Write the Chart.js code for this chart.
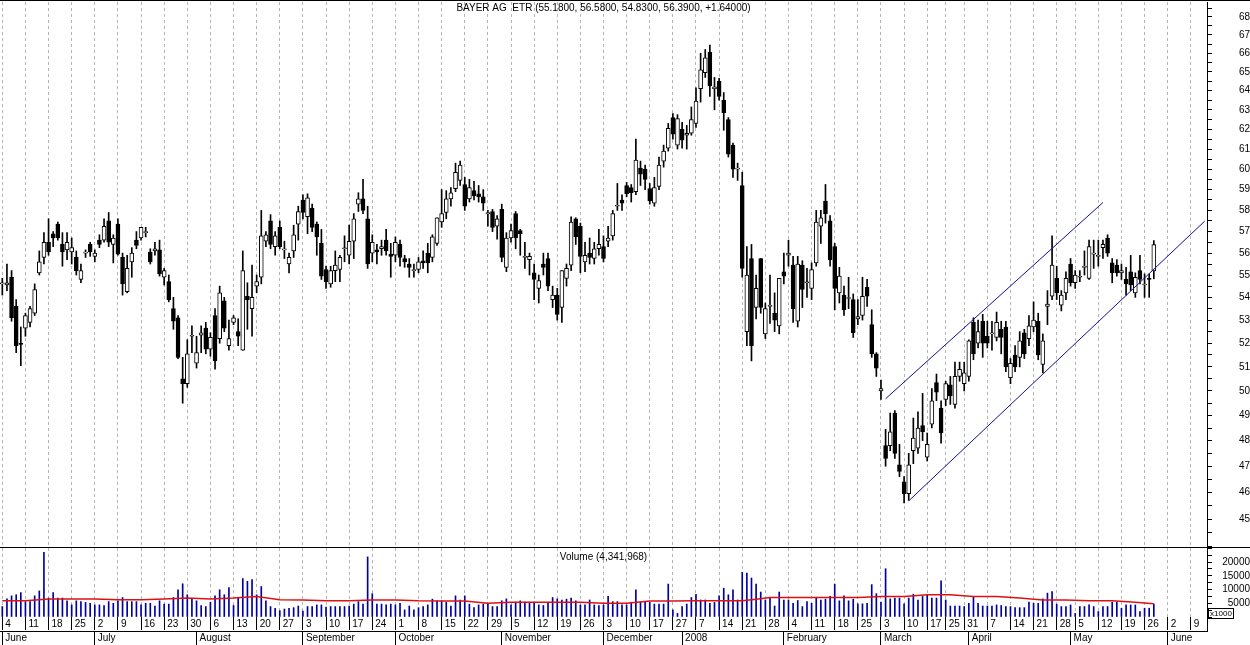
<!DOCTYPE html>
<html>
<head>
<meta charset="utf-8">
<title>BAYER AG ETR</title>
<script src="https://cdn.jsdelivr.net/npm/chart.js@4.4.1/dist/chart.umd.min.js"></script>
<style>
  html, body { margin: 0; padding: 0; background: #fff; }
  #wrap { width: 1250px; height: 645px; position: relative; }
</style>
</head>
<body>
<div id="wrap"><canvas id="bayer_chart"></canvas></div>
<script>
// daily OHLC, Xetra, from 4 June 2007
const opens = [
  54.6, 54.55, 54.9, 53.6, 52.0, 52.65, 52.9, 53.3, 55.1, 55.8,
  56.5, 56.9, 57.35, 56.4, 56.15, 56.05, 55.8, 54.8, 56.0, 56.4,
  55.85, 56.6, 56.6, 57.5, 56.4, 57.35, 55.8, 54.25, 55.6, 56.6,
  56.7, 56.95, 56.05, 56.1, 56.15, 54.9, 54.7, 53.5, 53.1, 50.5,
  50.3, 52.3, 51.15, 52.35, 52.65, 51.75, 53.2, 52.2, 53.85, 51.9,
  52.9, 52.5, 51.7, 54.05, 53.5, 54.5, 54.9, 56.55, 57.5, 56.3,
  57.2, 56.15, 55.5, 56.1, 57.35, 58.5, 57.7, 58.1, 57.35, 56.45,
  55.25, 54.6, 55.2, 55.25, 56.2, 55.9, 56.55, 58.3, 58.55, 57.6,
  56.0, 56.15, 56.2, 56.6, 55.95, 55.9, 56.4, 55.75, 55.5, 55.2,
  55.25, 55.65, 56.0, 55.8, 56.45, 57.45, 57.9, 58.55, 59.05, 59.45,
  59.25, 58.55, 58.95, 58.8, 58.65, 57.85, 57.95, 57.25, 58.05, 55.35,
  56.7, 57.85, 57.05, 55.8, 55.7, 55.1, 54.4, 55.5, 55.75, 53.9,
  54.1, 53.55, 54.85, 55.45, 57.6, 57.25, 55.6, 56.0, 55.75, 56.2,
  56.3, 56.55, 56.8, 58.2, 58.5, 59.2, 59.1, 58.9, 60.05, 60.0,
  59.05, 58.35, 59.15, 60.4, 61.05, 62.6, 61.2, 62.0, 61.7, 61.8,
  62.3, 64.1, 64.95, 66.05, 64.1, 64.5, 63.5, 62.5, 61.2, 60.0,
  59.2, 52.5, 55.75, 53.55, 55.75, 52.4, 53.6, 53.3, 52.75, 55.15,
  55.9, 55.45, 52.95, 55.45, 54.65, 54.4, 55.55, 57.25, 58.45, 57.5,
  56.3, 54.2, 54.1, 53.95, 53.9, 53.05, 53.2, 54.45, 52.8, 51.55,
  50.0, 47.8, 47.8, 49.1, 47.05, 46.4, 45.95, 47.6, 47.7, 48.6,
  47.35, 48.65, 50.35, 49.3, 49.65, 50.25, 49.45, 50.6, 50.3, 50.6,
  52.9, 52.0, 52.95, 52.3, 52.4, 52.25, 52.6, 52.7, 50.55, 51.5,
  51.4, 52.45, 52.2, 52.7, 52.95, 51.1, 53.6, 54.05, 54.85, 53.65,
  54.2, 55.5, 54.65, 54.9, 55.35, 54.85, 55.95, 55.85, 56.25, 56.7,
  55.55, 55.45, 55.1, 54.8, 55.15, 54.2, 55.2, 54.55, 54.85, 55.18
];
const highs = [
  54.85, 55.5, 55.2, 53.9, 52.7, 53.3, 53.6, 54.6, 56.1, 56.95,
  57.6, 57.0, 57.45, 56.95, 56.95, 56.7, 56.1, 55.5, 56.15, 56.5,
  56.15, 56.85, 57.6, 57.9, 56.85, 57.6, 56.0, 55.9, 56.25, 57.0,
  57.2, 57.2, 56.2, 56.5, 56.6, 55.3, 55.0, 54.0, 53.2, 51.4,
  52.15, 52.75, 52.3, 52.75, 52.9, 52.45, 53.5, 54.5, 54.0, 53.0,
  53.2, 53.05, 56.1, 54.65, 55.45, 55.0, 58.0, 57.0, 57.8, 57.0,
  57.5, 56.55, 56.0, 57.3, 58.2, 58.75, 58.8, 58.3, 57.45, 57.1,
  55.4, 55.4, 56.1, 55.9, 56.8, 57.3, 57.85, 58.85, 59.5, 58.2,
  56.85, 56.4, 56.6, 57.1, 56.45, 56.75, 56.6, 55.9, 55.75, 55.5,
  55.8, 56.1, 56.45, 56.85, 57.65, 59.0, 58.95, 59.1, 60.3, 60.4,
  59.6, 59.5, 59.4, 59.2, 59.0, 58.0, 58.05, 57.75, 58.3, 56.95,
  57.35, 57.95, 57.1, 56.5, 56.0, 55.5, 55.0, 56.0, 56.0, 54.5,
  54.4, 55.2, 55.5, 57.7, 57.65, 57.4, 56.5, 56.7, 56.5, 57.1,
  56.8, 57.25, 58.0, 59.3, 58.75, 59.35, 59.25, 61.5, 60.4, 60.2,
  59.3, 59.6, 60.6, 61.2, 62.3, 62.8, 62.75, 62.35, 62.2, 63.15,
  64.15, 66.0, 66.2, 66.45, 64.7, 64.65, 63.9, 62.6, 61.3, 60.3,
  59.85, 56.3, 56.4, 55.0, 55.75, 53.75, 55.0, 54.2, 54.85, 56.0,
  56.6, 55.85, 55.85, 55.65, 55.3, 55.55, 58.0, 58.0, 59.25, 57.75,
  56.45, 55.35, 54.5, 54.9, 54.15, 53.9, 54.9, 54.8, 53.45, 51.6,
  50.45, 48.45, 49.1, 49.2, 47.85, 46.6, 47.5, 48.9, 49.15, 49.9,
  48.3, 50.1, 50.7, 49.6, 50.4, 50.6, 51.2, 51.2, 51.2, 52.15,
  53.1, 53.0, 53.25, 52.95, 52.95, 53.35, 52.95, 52.95, 51.35, 51.9,
  52.5, 52.6, 53.2, 53.8, 53.3, 52.4, 54.3, 56.8, 55.4, 54.3,
  55.15, 55.75, 55.2, 55.2, 56.1, 56.6, 56.6, 56.6, 56.6, 56.85,
  55.75, 55.7, 55.5, 55.35, 55.9, 55.1, 55.9, 55.05, 55.05, 56.58
];
const lows = [
  54.1, 54.3, 52.95, 51.6, 51.05, 52.3, 52.7, 53.2, 55.0, 55.5,
  55.9, 56.3, 56.6, 55.4, 55.7, 55.5, 55.0, 54.65, 55.8, 55.85,
  55.6, 56.25, 56.5, 56.3, 55.55, 55.9, 54.1, 54.2, 54.9, 56.2,
  56.6, 56.75, 55.5, 55.9, 54.95, 54.55, 53.8, 52.6, 51.35, 49.5,
  50.15, 51.6, 50.95, 51.6, 51.55, 51.45, 50.9, 52.0, 52.5, 51.7,
  52.8, 51.9, 51.7, 52.6, 52.3, 54.2, 54.6, 56.3, 56.2, 55.9,
  56.2, 55.75, 55.1, 55.8, 56.6, 57.6, 56.9, 57.0, 55.9, 54.8,
  54.4, 54.45, 54.7, 54.7, 55.6, 55.5, 55.75, 57.95, 57.85, 55.3,
  55.6, 55.5, 55.9, 55.9, 54.9, 55.6, 55.4, 55.35, 54.9, 54.9,
  55.1, 55.3, 55.1, 55.6, 56.35, 57.2, 57.6, 58.2, 58.9, 59.2,
  58.0, 58.4, 58.5, 58.4, 58.0, 57.25, 57.0, 56.65, 55.6, 55.15,
  56.5, 56.2, 55.9, 55.3, 55.0, 53.9, 53.75, 55.0, 54.3, 53.55,
  53.0, 52.9, 54.5, 55.2, 56.4, 55.1, 55.15, 55.5, 55.5, 55.9,
  55.6, 56.3, 56.6, 58.0, 58.0, 58.65, 58.4, 58.75, 59.2, 59.0,
  58.3, 58.2, 59.0, 60.1, 60.9, 61.5, 61.0, 61.05, 61.0, 61.7,
  62.1, 63.4, 64.7, 63.7, 63.0, 63.5, 61.95, 60.6, 59.6, 59.45,
  54.9, 51.9, 51.25, 53.05, 53.3, 52.2, 52.85, 52.5, 52.4, 54.6,
  55.4, 52.9, 52.7, 53.55, 54.0, 53.9, 55.4, 56.45, 57.4, 55.4,
  53.45, 53.75, 53.2, 53.5, 52.25, 52.8, 53.0, 53.6, 51.4, 50.6,
  49.65, 47.0, 47.6, 47.3, 46.6, 45.6, 45.7, 47.1, 47.5, 48.0,
  47.2, 48.5, 49.6, 47.9, 49.4, 49.45, 49.3, 50.4, 50.0, 50.4,
  51.3, 51.8, 51.4, 51.8, 51.7, 52.1, 51.55, 50.8, 50.3, 50.8,
  51.0, 51.35, 51.9, 52.5, 51.3, 50.75, 52.8, 53.9, 53.9, 53.4,
  53.9, 54.5, 54.4, 54.7, 55.0, 54.8, 55.3, 55.4, 55.75, 55.85,
  54.65, 54.95, 54.8, 54.1, 54.3, 54.0, 54.6, 54.0, 54.0, 54.83
];
const closes = [
  54.6, 54.65, 53.1, 51.9, 51.95, 53.2, 53.5, 54.35, 55.6, 56.5,
  56.05, 56.7, 56.7, 56.05, 56.5, 56.25, 55.2, 55.2, 56.0, 56.05,
  56.0, 56.4, 57.25, 56.5, 56.7, 55.95, 54.6, 55.3, 56.0, 56.35,
  57.2, 56.95, 55.6, 56.2, 55.05, 55.2, 53.9, 52.95, 51.4, 50.3,
  51.55, 52.3, 51.6, 52.45, 51.75, 52.25, 51.25, 54.2, 52.65, 52.2,
  53.1, 52.3, 55.2, 53.9, 54.0, 54.7, 56.8, 56.85, 56.4, 56.8,
  56.3, 56.15, 55.8, 56.85, 57.95, 57.9, 58.6, 57.2, 56.75, 54.95,
  54.7, 55.2, 55.45, 55.8, 56.2, 56.55, 57.6, 58.55, 58.0, 55.5,
  56.5, 56.05, 56.3, 56.1, 55.85, 56.5, 55.8, 55.6, 55.35, 55.2,
  55.6, 55.55, 55.55, 56.75, 57.65, 57.85, 58.55, 58.85, 59.85, 60.2,
  58.2, 59.1, 58.7, 58.65, 58.35, 57.85, 57.2, 57.6, 55.8, 56.7,
  57.05, 56.7, 56.9, 55.8, 55.85, 54.8, 54.75, 55.35, 54.5, 54.1,
  53.25, 55.2, 55.3, 57.45, 56.75, 55.85, 55.9, 55.8, 56.2, 56.4,
  55.75, 56.7, 57.85, 58.2, 58.35, 58.8, 58.85, 60.45, 59.75, 59.5,
  58.45, 59.1, 60.2, 60.9, 62.05, 61.75, 62.55, 61.45, 61.8, 62.5,
  63.45, 65.1, 65.75, 64.25, 64.2, 63.7, 62.85, 60.75, 60.0, 60.0,
  55.3, 55.0, 51.9, 54.4, 53.55, 53.5, 53.6, 53.0, 54.85, 54.95,
  56.0, 53.5, 55.5, 54.35, 54.65, 55.25, 57.45, 57.65, 57.85, 55.7,
  54.4, 54.95, 53.45, 53.95, 52.45, 53.15, 54.05, 54.05, 51.55, 50.95,
  50.1, 47.3, 48.35, 47.5, 46.8, 45.95, 47.05, 48.1, 48.5, 48.35,
  47.85, 49.6, 49.95, 48.3, 50.3, 49.8, 50.6, 50.9, 50.75, 52.1,
  51.55, 52.5, 52.0, 52.0, 52.4, 52.9, 52.25, 51.0, 51.15, 51.0,
  52.1, 51.55, 52.75, 53.0, 51.5, 52.1, 53.7, 55.45, 54.2, 54.1,
  54.85, 54.65, 55.0, 54.9, 55.35, 56.3, 55.95, 55.85, 56.4, 56.0,
  55.1, 55.1, 55.2, 54.6, 54.55, 54.9, 54.8, 54.55, 54.8, 56.39
];
// volume in thousands of shares
const volumes = [
  3800, 6600, 7700, 8100, 8900, 5600, 5600, 7700, 9500, 23600,
  6900, 8900, 6900, 6900, 5900, 4400, 5900, 5600, 5300, 5000,
  4400, 4400, 4200, 5600, 5000, 5900, 7100, 5600, 5600, 5600,
  4400, 5000, 5000, 4000, 5900, 4700, 4700, 7100, 9900, 12100,
  8100, 6500, 5900, 4200, 3800, 5400, 7700, 9900, 8100, 10700,
  4200, 6900, 14000, 13000, 13600, 8100, 11100, 5900, 3800, 3200,
  2300, 2900, 3200, 3400, 4000, 2200, 3800, 3800, 4400, 4400,
  3600, 3800, 3800, 3800, 3800, 4000, 4700, 5600, 4700, 21900,
  8500, 4700, 4700, 4400, 4700, 4400, 5000, 2600, 4000, 2600,
  3400, 3800, 4400, 6500, 5900, 5900, 5400, 4000, 7700, 6200,
  7700, 4700, 3400, 4400, 4700, 4700, 3800, 3800, 5900, 6600,
  4400, 5400, 5900, 5400, 5400, 5400, 4400, 4200, 5000, 7100,
  6600, 6200, 6500, 6900, 5900, 4400, 4400, 6200, 4400, 4200,
  4400, 7500, 5600, 5600, 4400, 4400, 5400, 9900, 5400, 5600,
  5400, 4700, 4700, 4700, 12000, 2600, 1300, 3800, 4700, 7100,
  8300, 6200, 6200, 5000, 5300, 7700, 10500, 8100, 9900, 6200,
  16300, 16000, 14200, 12000, 9100, 6200, 6900, 4000, 9100, 6200,
  6200, 5000, 6000, 3800, 5600, 5000, 6900, 6200, 6500, 7500,
  12000, 5900, 7700, 5900, 6500, 4800, 4800, 5000, 11800, 8500,
  5400, 17600, 6600, 6900, 6900, 4800, 6900, 8300, 6200, 7500,
  8100, 6900, 6900, 13200, 6200, 4000, 4000, 4000, 3800, 5000,
  7500, 5000, 4000, 4000, 4000, 4400, 4200, 3800, 3800, 3400,
  3400, 3400, 5400, 5000, 5000, 6600, 8700, 9300, 4700, 3800,
  3800, 4400, 1300, 3800, 3800, 4400, 3800, 2000, 3800, 3800,
  5400, 5400, 3200, 4400, 4400, 4400, 2000, 3200, 3200, 4700
];
// red volume average, read at weekly points
const avgIdx = [0, 5, 10, 15, 20, 25, 30, 35, 40, 45, 50, 55, 60, 65, 70, 75, 80, 85, 90, 95,
  100, 105, 110, 115, 120, 125, 130, 135, 140, 145, 150, 155, 160, 163, 166, 170, 175, 180,
  185, 190, 195, 200, 205, 210, 215, 220, 225, 230, 235, 240, 245, 249];
const avgVal = [5900, 5900, 6600, 6600, 6600, 6300, 6300, 6600, 6900, 6600, 6900, 7500, 6300,
  6200, 5900, 5900, 6200, 6200, 5900, 5800, 5800, 5000, 5400, 5400, 5400, 5400, 5000, 5000,
  5800, 5800, 5900, 5900, 5900, 6500, 7100, 7100, 7100, 7100, 7100, 7500, 7500, 8100, 8100,
  7500, 7500, 6900, 6200, 6200, 5900, 5900, 5400, 4800];
// trend channel, [day index, price]
const channelUpper = [[191, 49.68], [238, 58.38]];
const channelLower = [[196, 45.68], [260, 57.49]];

const startDay = '2007-06-04';
const dayCount = 261;
const holidays = ['2007-12-24', '2007-12-25', '2007-12-26', '2007-12-31', '2008-01-01',
  '2008-03-21', '2008-03-24', '2008-05-01'];
const monthNames = ['January', 'February', 'March', 'April', 'May', 'June', 'July',
  'August', 'September', 'October', 'November', 'December'];
const priceTicks = [];
for (let p = 44; p <= 68.5; p += 0.5) priceTicks.push(p);
const volTicks = [0, 2500, 5000, 7500, 10000, 12500, 15000, 17500, 20000, 22500, 25000];

const titleText = 'BAYER AG  ETR (55.1800, 56.5800, 54.8300, 56.3900, +1.64000)';
const volumeText = 'Volume (4,341,968)';

// trading days
const tradeDays = [];
let d = new Date(startDay + 'T00:00:00Z');
while (tradeDays.length < dayCount) {
  const iso = d.toISOString().slice(0, 10);
  const dow = d.getUTCDay();
  if (dow !== 0 && dow !== 6 && holidays.indexOf(iso) < 0) tradeDays.push(iso);
  d = new Date(d.getTime() + 86400000);
}

const dayLabels = [];
const monthLabels = [];
let lastWeek = -10;
tradeDays.forEach((iso, i) => {
  const cur = new Date(iso + 'T00:00:00Z');
  const prev = i ? new Date(tradeDays[i - 1] + 'T00:00:00Z') : null;
  const newWeek = !prev || cur.getUTCDay() <= prev.getUTCDay() || (cur - prev) > 5 * 86400000;
  if (newWeek && i - lastWeek >= 3) {
    dayLabels.push(String(cur.getUTCDate()));
    lastWeek = i;
  } else {
    dayLabels.push('');
  }
  const newMonth = !prev || cur.getUTCMonth() !== prev.getUTCMonth();
  if (newMonth) {
    monthLabels.push(cur.getUTCMonth() === 0 ? String(cur.getUTCFullYear()) : monthNames[cur.getUTCMonth()]);
  } else {
    monthLabels.push('');
  }
});

const bodies = opens.map((o, i) => [o, closes[i]]);
const wicks = lows.map((l, i) => [l, highs[i]]);
const bodyColors = opens.map((o, i) => closes[i] >= o ? '#ffffff' : '#000000');

function sparse(pairs, len) {
  const arr = new Array(len).fill(null);
  pairs.forEach(p => { arr[p[0]] = p[1]; });
  return arr;
}
const avgLine = sparse(avgIdx.map((ix, k) => [ix, avgVal[k]]), volumes.length);

const FONT = '"Liberation Sans", Arial, sans-serif';
Chart.defaults.font.family = FONT;
Chart.defaults.font.size = 10;
Chart.defaults.color = '#000';

// right axes: fixed width, no vertical label padding
function fitRight(s) {
  s.width = 43;
  s.paddingTop = 0;
  s.paddingBottom = 0;
}

const decorations = {
  id: 'decorations',
  beforeDraw(c) {
    const ctx = c.ctx;
    ctx.save();
    ctx.fillStyle = '#fff';
    ctx.fillRect(0, 0, c.width, c.height);
    ctx.restore();
  },
  afterDraw(c) {
    const ctx = c.ctx;
    const y = c.scales.y, v = c.scales.vol, x2 = c.scales.x2;
    const mid = (c.chartArea.left + c.chartArea.right) / 2;
    ctx.save();
    ctx.fillStyle = '#000';
    ctx.fillRect(0, 0, c.width, 1);
    ctx.fillRect(0, Math.round(y.bottom), c.width, 1);
    ctx.fillRect(Math.round(v.left), v.bottom, 1, x2.top - v.bottom + 1);
    ctx.font = '10px ' + FONT;
    ctx.textAlign = 'center';
    ctx.textBaseline = 'middle';
    ctx.fillText(titleText, mid, 8);
    ctx.fillText(volumeText, mid, v.top + 10);
    ctx.strokeStyle = '#000';
    ctx.lineWidth = 1;
    ctx.strokeRect(Math.round(v.left) + 1.5, v.bottom - 8.5, 25, 10);
    ctx.font = '8px ' + FONT;
    ctx.fillText('x1000', Math.round(v.left) + 14, v.bottom - 3);
    ctx.restore();
  }
};

const ctx = document.getElementById('bayer_chart').getContext('2d');
const chart = new Chart(ctx, {
  type: 'bar',
  data: {
    labels: tradeDays,
    datasets: [
      {
        label: 'upper', type: 'line', data: sparse(channelUpper, dayCount), yAxisID: 'y',
        borderColor: '#10109a', borderWidth: 1, pointRadius: 0, spanGaps: true, order: 0
      },
      {
        label: 'lower', type: 'line', data: sparse(channelLower, dayCount), yAxisID: 'y',
        borderColor: '#10109a', borderWidth: 1, pointRadius: 0, spanGaps: true, order: 0
      },
      {
        label: 'avg', type: 'line', data: avgLine, yAxisID: 'vol',
        borderColor: '#e01010', borderWidth: 1.5, pointRadius: 0, spanGaps: true, order: 0
      },
      {
        label: 'volume', data: volumes, yAxisID: 'vol', grouped: false,
        backgroundColor: '#0000a0', barThickness: 1, order: 1
      },
      {
        label: 'body', data: bodies, yAxisID: 'y', grouped: false,
        backgroundColor: bodyColors, borderColor: '#000', borderWidth: 1,
        borderSkipped: false, barThickness: 4, minBarLength: 1, order: 2
      },
      {
        label: 'wick', data: wicks, yAxisID: 'y', grouped: false,
        backgroundColor: '#000', barThickness: 1, order: 3
      }
    ]
  },
  options: {
    responsive: true,
    maintainAspectRatio: false,
    animation: false,
    events: [],
    layout: { padding: { top: 2, left: 0, right: 0, bottom: 0 } },
    plugins: { legend: { display: false }, tooltip: { enabled: false } },
    scales: {
      x: {
        type: 'category', position: 'bottom', offset: true, weight: 0,
        grid: { offset: false, color: '#b4b4b4', tickColor: '#000', tickLength: 13, tickBorderDash: [] },
        border: { display: false, dash: [3, 3] },
        ticks: {
          autoSkip: false, maxRotation: 0, minRotation: 0, align: 'start',
          padding: -12, labelOffset: 3, color: '#000',
          callback: v => dayLabels[v]
        },
        afterBuildTicks: s => { s.ticks = s.ticks.filter(t => dayLabels[t.value]); },
        afterFit: s => { s.height = 14; }
      },
      x2: {
        type: 'category', position: 'bottom', offset: true, weight: 1,
        grid: { offset: false, drawOnChartArea: false, tickColor: '#000', tickLength: 14 },
        border: { display: true, color: '#000', width: 1 },
        ticks: {
          autoSkip: false, maxRotation: 0, minRotation: 0, align: 'start',
          padding: -13, labelOffset: 3, color: '#000',
          callback: v => monthLabels[v]
        },
        afterBuildTicks: s => { s.ticks = s.ticks.filter(t => monthLabels[t.value]); },
        afterFit: s => { s.height = 14; }
      },
      y: {
        type: 'logarithmic', position: 'right', stack: 'panels', stackWeight: 545,
        bounds: 'data', min: 43.98, max: 68.84,
        grid: { drawOnChartArea: false, tickLength: 5, tickColor: '#000' },
        border: { display: true, color: '#000', width: 1 },
        ticks: {
          autoSkip: false, padding: 21, crossAlign: 'far', color: '#000',
          callback: v => (Number.isInteger(v) && v >= 45) ? String(v) : ''
        },
        afterBuildTicks: s => { s.ticks = priceTicks.map(p => ({ value: p })); },
        afterFit: fitRight
      },
      vol: {
        type: 'linear', position: 'right', stack: 'panels', stackWeight: 70,
        bounds: 'data', min: 0, max: 25500,
        grid: { drawOnChartArea: false, tickLength: 5, tickColor: '#000' },
        border: { display: true, color: '#000', width: 1 },
        ticks: {
          autoSkip: false, padding: 5, crossAlign: 'far', color: '#000',
          callback: v => (v > 0 && v % 5000 === 0 && v <= 20000) ? String(v) : ''
        },
        afterBuildTicks: s => { s.ticks = volTicks.map(t => ({ value: t })); },
        afterFit: fitRight
      }
    }
  },
  plugins: [decorations]
});
</script>
</body>
</html>
